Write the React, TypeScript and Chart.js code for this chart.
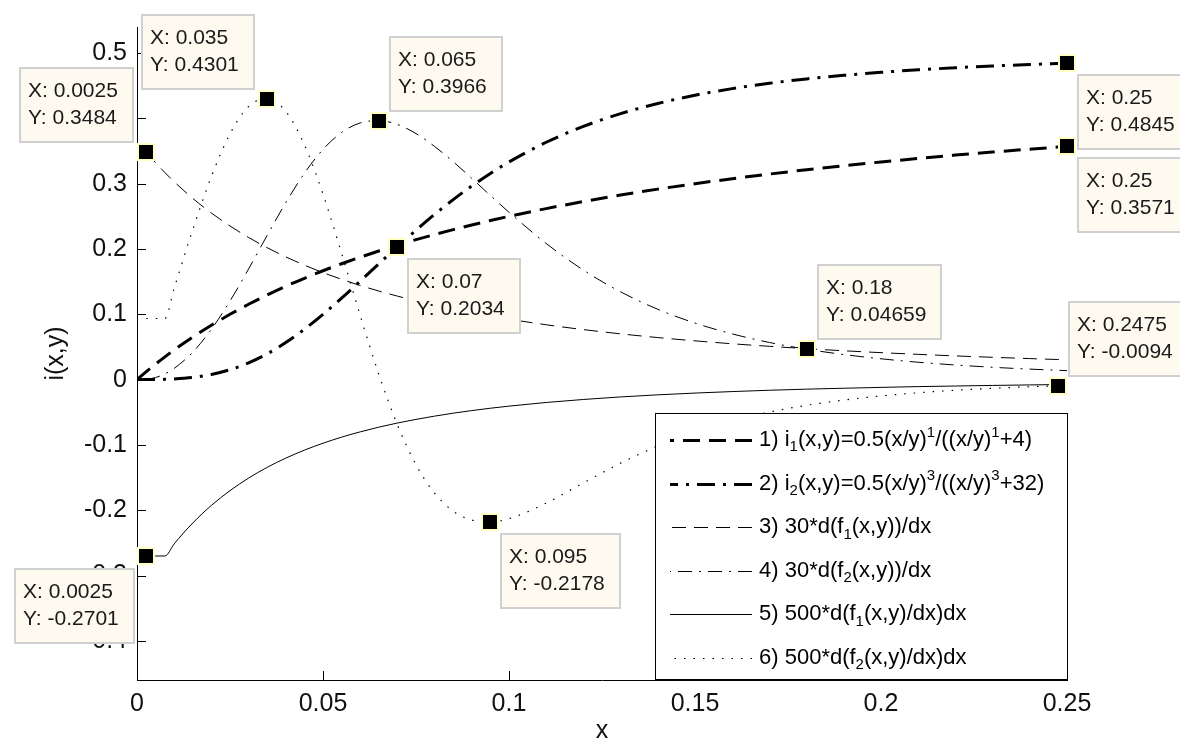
import React, { useEffect, useRef } from 'react';
import { Chart, registerables } from 'chart.js';

Chart.register(...registerables);

const FONT = "'Liberation Sans', Arial, sans-serif";

const xValues = [0, 0.0025, 0.005, 0.0075, 0.01, 0.015, 0.02, 0.025, 0.03, 0.035, 0.04, 0.045, 0.05, 0.055, 0.06, 0.065, 0.07, 0.075, 0.08, 0.085, 0.09, 0.095, 0.1, 0.11, 0.12, 0.13, 0.14, 0.15, 0.16, 0.17, 0.18, 0.19, 0.2, 0.21, 0.22, 0.23, 0.24, 0.2475, 0.25];

const series1 = [0, 0.0122, 0.0238, 0.0349, 0.0455, 0.0652, 0.0833, 0.1, 0.1154, 0.1296, 0.1429, 0.1552, 0.1667, 0.1774, 0.1875, 0.197, 0.2059, 0.2143, 0.2222, 0.2297, 0.2368, 0.2436, 0.25, 0.2619, 0.2727, 0.2826, 0.2917, 0.3, 0.3077, 0.3148, 0.3214, 0.3276, 0.3333, 0.3387, 0.3438, 0.3485, 0.3529, 0.3561, 0.3571];

const series2 = [0, 0.00002, 0.0001, 0.0004, 0.001, 0.0034, 0.0079, 0.0152, 0.0256, 0.0395, 0.0567, 0.0771, 0.1, 0.1248, 0.1508, 0.1773, 0.2034, 0.2288, 0.253, 0.2756, 0.2966, 0.3158, 0.3333, 0.3635, 0.3878, 0.4073, 0.4229, 0.4355, 0.4456, 0.4538, 0.4605, 0.466, 0.4706, 0.4744, 0.4776, 0.4803, 0.4825, 0.484, 0.4845];

const series3 = [null, 0.3484, 0.3322, 0.3171, 0.303, 0.2775, 0.2551, 0.2353, 0.2177, 0.202, 0.188, 0.1753, 0.1639, 0.1536, 0.1442, 0.1357, 0.1279, 0.1207, 0.1142, 0.1081, 0.1025, 0.0974, 0.0926, 0.084, 0.0766, 0.0701, 0.0644, 0.0594, 0.0549, 0.051, 0.0474, 0.0442, 0.0413, 0.0387, 0.0363, 0.0342, 0.0322, 0.0308, 0.0304];

const series4 = [null, 0.0004, 0.0032, 0.0088, 0.0172, 0.0421, 0.0771, 0.1204, 0.1695, 0.221, 0.2711, 0.316, 0.3525, 0.3785, 0.3931, 0.3966, 0.3907, 0.3768, 0.3571, 0.3337, 0.3082, 0.282, 0.2563, 0.2085, 0.1677, 0.1344, 0.1077, 0.0866, 0.07, 0.0569, 0.04659, 0.0384, 0.0319, 0.0266, 0.0224, 0.0189, 0.0161, 0.0143, 0.0138];

const series5 = [null, -0.2701, -0.2701, -0.2701, -0.2515, -0.2195, -0.1926, -0.17, -0.1508, -0.1343, -0.1202, -0.108, -0.0974, -0.0881, -0.08, -0.0728, -0.0665, -0.0609, -0.0559, -0.0514, -0.0474, -0.0438, -0.0406, -0.035, -0.0304, -0.0265, -0.0233, -0.0206, -0.0183, -0.0163, -0.0146, -0.0132, -0.0119, -0.0107, -0.0098, -0.0089, -0.0081, -0.0076, -0.0074];

const series6 = [null, 0.0936, 0.0936, 0.0936, 0.14, 0.2298, 0.311, 0.3763, 0.4183, 0.4301, 0.4107, 0.3597, 0.2841, 0.1934, 0.0982, 0.0083, -0.0692, -0.1303, -0.174, -0.2014, -0.2151, -0.2178, -0.213, -0.1891, -0.1581, -0.1279, -0.1017, -0.0802, -0.0631, -0.0497, -0.0393, -0.0313, -0.025, -0.0201, -0.0163, -0.0133, -0.0109, -0.0094, -0.009];

const seriesLabels = [
  '1) i_{1}(x,y)=0.5(x/y)^{1}/((x/y)^{1}+4)',
  '2) i_{2}(x,y)=0.5(x/y)^{3}/((x/y)^{3}+32)',
  '3) 30*d(f_{1}(x,y))/dx',
  '4) 30*d(f_{2}(x,y))/dx',
  '5) 500*d(f_{1}(x,y)/dx)dx',
  '6) 500*d(f_{2}(x,y)/dx)dx',
];

const xTicks = [0, 0.05, 0.1, 0.15, 0.2, 0.25];
const xTickLabels = ['0', '0.05', '0.1', '0.15', '0.2', '0.25'];
const yTicks = [-0.4, -0.3, -0.2, -0.1, 0, 0.1, 0.2, 0.3, 0.4, 0.5];
const yTickLabels = ['-0.4', '-0.3', '-0.2', '-0.1', '0', '0.1', '0.2', '0.3', '0.4', '0.5'];

const xTitle = 'x';
const yTitle = 'i(x,y)';

const tipX = [0.0025, 0.035, 0.065, 0.25, 0.25, 0.07, 0.18, 0.2475, 0.095, 0.0025];
const tipY = [0.3484, 0.4301, 0.3966, 0.4845, 0.3571, 0.2034, 0.04659, -0.0094, -0.2178, -0.2701];
const tipSide = ['tl', 'tl', 'tr', 'br', 'br', 'br', 'tr', 'tr', 'br', 'bl'];

const seriesValues = [series1, series2, series3, series4, series5, series6];
const seriesWidths = [3, 3, 1, 1, 1, 1.2];
const seriesDashes = [[17, 9], [18, 8, 3, 8], [14, 8], [14, 7, 2, 7], [], [1.5, 8]];

function drawRich(ctx: CanvasRenderingContext2D, text: string, x: number, y: number, size: number) {
  const parts = text.split(/(_\{[^}]*\}|\^\{[^}]*\})/).filter((p) => p.length > 0);
  let cx = x;
  for (const p of parts) {
    let t = p;
    let fs = size;
    let dy = 0;
    if (p.startsWith('_{')) {
      t = p.slice(2, -1);
      fs = size * 0.68;
      dy = size * 0.33;
    } else if (p.startsWith('^{')) {
      t = p.slice(2, -1);
      fs = size * 0.68;
      dy = -size * 0.33;
    }
    ctx.font = `${fs}px ${FONT}`;
    ctx.fillText(t, cx, y + dy);
    cx += ctx.measureText(t).width;
  }
}

const overlayPlugin = {
  id: 'overlay',
  afterDraw(chart: any) {
    const ctx: CanvasRenderingContext2D = chart.ctx;
    const xs = chart.scales.x;
    const ys = chart.scales.y;
    const area = chart.chartArea;
    ctx.save();

    // inward tick marks
    ctx.strokeStyle = '#000';
    ctx.lineWidth = 1;
    ctx.setLineDash([]);
    ctx.beginPath();
    yTicks.forEach((v) => {
      const p = Math.round(ys.getPixelForValue(v)) + 0.5;
      ctx.moveTo(area.left, p);
      ctx.lineTo(area.left + 9, p);
    });
    xTicks.forEach((v) => {
      const p = Math.round(xs.getPixelForValue(v)) + 0.5;
      ctx.moveTo(p, area.bottom);
      ctx.lineTo(p, area.bottom - 9);
    });
    ctx.stroke();

    // axis titles
    ctx.fillStyle = '#111';
    ctx.font = `25px ${FONT}`;
    ctx.textAlign = 'center';
    ctx.textBaseline = 'middle';
    ctx.fillText(xTitle, (area.left + area.right) / 2, 731);
    ctx.save();
    ctx.translate(56, (area.top + area.bottom) / 2);
    ctx.rotate(-Math.PI / 2);
    ctx.fillText(yTitle, 0, 0);
    ctx.restore();

    // legend
    const lx0 = 655;
    const ly0 = 413;
    const lx1 = area.right + 1;
    const ly1 = area.bottom;
    ctx.fillStyle = '#fff';
    ctx.fillRect(lx0, ly0, lx1 - lx0, ly1 - ly0);
    ctx.strokeStyle = '#000';
    ctx.lineWidth = 1;
    ctx.strokeRect(lx0 + 0.5, ly0 + 0.5, lx1 - lx0 - 1, ly1 - ly0 - 1);
    ctx.textAlign = 'left';
    ctx.textBaseline = 'middle';
    chart.data.datasets.forEach((ds: any, i: number) => {
      const cy = ly0 + 27 + i * 43.6;
      ctx.strokeStyle = '#000';
      ctx.lineWidth = ds.borderWidth;
      ctx.setLineDash(ds.borderDash || []);
      ctx.beginPath();
      ctx.moveTo(752, Math.round(cy) + 0.5);
      ctx.lineTo(670, Math.round(cy) + 0.5);
      ctx.stroke();
      ctx.setLineDash([]);
      ctx.fillStyle = '#000';
      drawRich(ctx, seriesLabels[i], 759, cy, 22);
    });

    // data tips
    ctx.font = `21px ${FONT}`;
    const markers: Array<[number, number]> = [];
    tipX.forEach((xv, k) => {
      const mx = xs.getPixelForValue(xv);
      const my = ys.getPixelForValue(tipY[k]);
      markers.push([mx, my]);
      const l1 = 'X: ' + String(xv);
      const l2 = 'Y: ' + String(tipY[k]);
      ctx.font = `21px ${FONT}`;
      const w = Math.round(Math.max(ctx.measureText(l1).width, ctx.measureText(l2).width) + 25);
      const h = 76;
      let bx = 0;
      let by = 0;
      const side = tipSide[k];
      if (side === 'tl') { bx = mx - 12 - w; by = my - 9 - h; }
      else if (side === 'tr') { bx = mx + 10; by = my - 9 - h; }
      else if (side === 'br') { bx = mx + 10; by = my + 11; }
      else { bx = mx - 11 - w; by = my + 12; }
      bx = Math.round(bx);
      by = Math.round(by);
      ctx.fillStyle = '#fffaf0';
      ctx.fillRect(bx, by, w, h);
      ctx.strokeStyle = '#d0d0d0';
      ctx.lineWidth = 2;
      ctx.strokeRect(bx + 1, by + 1, w - 2, h - 2);
      ctx.fillStyle = '#1a1a1a';
      ctx.textAlign = 'left';
      ctx.textBaseline = 'middle';
      ctx.fillText(l1, bx + 9, by + 24);
      ctx.fillText(l2, bx + 9, by + 51);
    });
    markers.forEach(([mx, my]) => {
      ctx.fillStyle = '#ffffc4';
      ctx.fillRect(Math.round(mx) - 9, Math.round(my) - 9, 18, 18);
      ctx.fillStyle = '#000';
      ctx.fillRect(Math.round(mx) - 7, Math.round(my) - 7, 14, 14);
    });

    ctx.restore();
  },
};

export default function App() {
  const canvasRef = useRef<HTMLCanvasElement | null>(null);

  useEffect(() => {
    const canvas = canvasRef.current;
    if (!canvas) return;
    const datasets = seriesValues.map((vals, i) => ({
      label: seriesLabels[i],
      data: xValues
        .map((x, j) => ({ x, y: vals[j] }))
        .filter((p) => p.y !== null && p.y !== undefined),
      borderColor: '#000',
      backgroundColor: '#000',
      borderWidth: seriesWidths[i],
      borderDash: seriesDashes[i],
      pointRadius: 0,
      fill: false,
      cubicInterpolationMode: 'monotone' as const,
    }));

    const tickFont = { family: FONT, size: 25 };

    const chart = new Chart(canvas, {
      type: 'line',
      data: { datasets },
      options: {
        animation: false,
        responsive: false,
        devicePixelRatio: 1,
        layout: { padding: { left: 0, top: 27, right: 113, bottom: 0 } },
        plugins: { legend: { display: false }, tooltip: { enabled: false } },
        scales: {
          x: {
            type: 'linear',
            min: 0,
            max: 0.25,
            grid: { display: false, drawTicks: false },
            border: { display: true, color: '#000', width: 1 },
            ticks: {
              font: tickFont,
              color: '#111',
              padding: 9,
              maxRotation: 0,
              autoSkip: false,
              callback: (_v: any, i: number) => xTickLabels[i],
            },
            afterBuildTicks: (axis: any) => {
              axis.ticks = xTicks.map((v) => ({ value: v }));
            },
            afterFit: (s: any) => {
              s.height = 63;
            },
          },
          y: {
            type: 'linear',
            min: -0.46,
            max: 0.54,
            grid: { display: false, drawTicks: false },
            border: { display: true, color: '#000', width: 1 },
            ticks: {
              font: tickFont,
              color: '#111',
              padding: 10,
              autoSkip: false,
              callback: (_v: any, i: number) => yTickLabels[i],
            },
            afterBuildTicks: (axis: any) => {
              axis.ticks = yTicks.map((v) => ({ value: v }));
            },
            afterFit: (s: any) => {
              s.width = 137;
            },
          },
        },
      },
      plugins: [overlayPlugin],
    });
    return () => chart.destroy();
  }, []);

  return (
    <div style={{ position: 'absolute', left: 0, top: 0, width: 1180, height: 743, background: '#fff' }}>
      <canvas ref={canvasRef} width={1180} height={743} style={{ display: 'block' }} />
    </div>
  );
}
